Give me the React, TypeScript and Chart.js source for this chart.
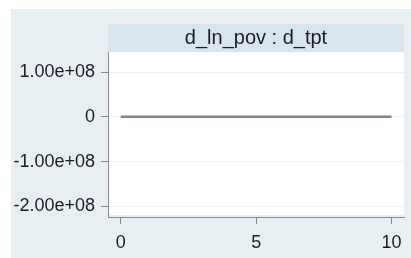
import React, { useEffect, useRef } from "react";
import { Chart, registerables } from "chart.js";

Chart.register(...registerables);

const steps = [0, 1, 2, 3, 4, 5, 6, 7, 8, 9, 10];
const irfValues = [0, 0, 0, 0, 0, 0, 0, 0, 0, 0, 0];
const xTicks = [0, 5, 10];
const yTicks = [-200000000, -100000000, 0, 100000000];
const panelTitle = "d_ln_pov : d_tpt";

const fmt = (v: number) => {
  if (v === 0) return "0";
  const s = v.toExponential(2);
  const [m, e] = s.split("e");
  const sign = e[0];
  const digits = e.slice(1).padStart(2, "0");
  return `${m}e${sign}${digits}`;
};

const FONT = "'Liberation Sans', Arial, sans-serif";

const bgPlugin = {
  id: "stataBg",
  beforeDraw(chart: any) {
    const { ctx, chartArea, width, height } = chart;
    ctx.save();
    ctx.fillStyle = "#ffffff";
    ctx.fillRect(0, 0, width, height);
    ctx.fillStyle = "#e8eff3";
    ctx.fillRect(11, 9, width - 11, height - 9);
    ctx.fillStyle = "#d9e5ec";
    ctx.fillRect(chartArea.left, 24, chartArea.right - chartArea.left, chartArea.top - 24);
    ctx.fillStyle = "#ffffff";
    ctx.fillRect(chartArea.left, chartArea.top, chartArea.right - chartArea.left, chartArea.bottom - chartArea.top - 2);
    ctx.fillStyle = "#1c1c28";
    ctx.font = `20px ${FONT}`;
    ctx.textAlign = "center";
    ctx.textBaseline = "middle";
    ctx.fillText(panelTitle, (chartArea.left + chartArea.right) / 2, 38);
    ctx.restore();
  },
};

export default function App() {
  const ref = useRef<HTMLCanvasElement | null>(null);
  useEffect(() => {
    if (!ref.current) return;
    const chart = new Chart(ref.current, {
      type: "line",
      data: {
        datasets: [
          {
            data: steps.map((x, i) => ({ x, y: irfValues[i] })),
            borderColor: "#7c8599",
            borderWidth: 2.5,
            pointRadius: 0,
            fill: false,
          },
        ],
      },
      options: {
        animation: false,
        responsive: false,
        layout: { padding: { left: 0, top: 52, right: 7, bottom: 0 } },
        plugins: { legend: { display: false }, title: { display: false }, tooltip: { enabled: false } },
        scales: {
          x: {
            type: "linear",
            min: -0.47,
            max: 10.46,
            afterBuildTicks: (s: any) => {
              s.ticks = xTicks.map((v) => ({ value: v }));
            },
            afterFit: (s: any) => {
              s.height = 41;
            },
            grid: { drawOnChartArea: false, drawTicks: true, tickLength: 7, tickColor: "#8a8a8a" },
            border: { display: true, color: "#8a8a8a", width: 1 },
            ticks: {
              padding: 8,
              color: "#1c1c28",
              font: { family: FONT, size: 18 },
              maxRotation: 0,
              callback: (v: any) => String(v),
            },
          },
          y: {
            type: "linear",
            min: -224000000,
            max: 145000000,
            afterBuildTicks: (s: any) => {
              s.ticks = yTicks.map((v) => ({ value: v }));
            },
            afterFit: (s: any) => {
              s.width = 108;
            },
            grid: { drawOnChartArea: true, color: "#eaf1f4", lineWidth: 1, drawTicks: true, tickLength: 7, tickColor: "#8a8a8a" },
            border: { display: true, color: "#8a8a8a", width: 1 },
            ticks: {
              padding: 6,
              color: "#1c1c28",
              font: { family: FONT, size: 18 },
              callback: (v: any) => fmt(Number(v)),
            },
          },
        },
      },
      plugins: [bgPlugin],
    });
    return () => chart.destroy();
  }, []);
  return (
    <div style={{ position: "absolute", left: 0, top: 0, width: 411, height: 258 }}>
      <canvas ref={ref} width={411} height={258} style={{ display: "block", width: 411, height: 258 }} />
    </div>
  );
}
